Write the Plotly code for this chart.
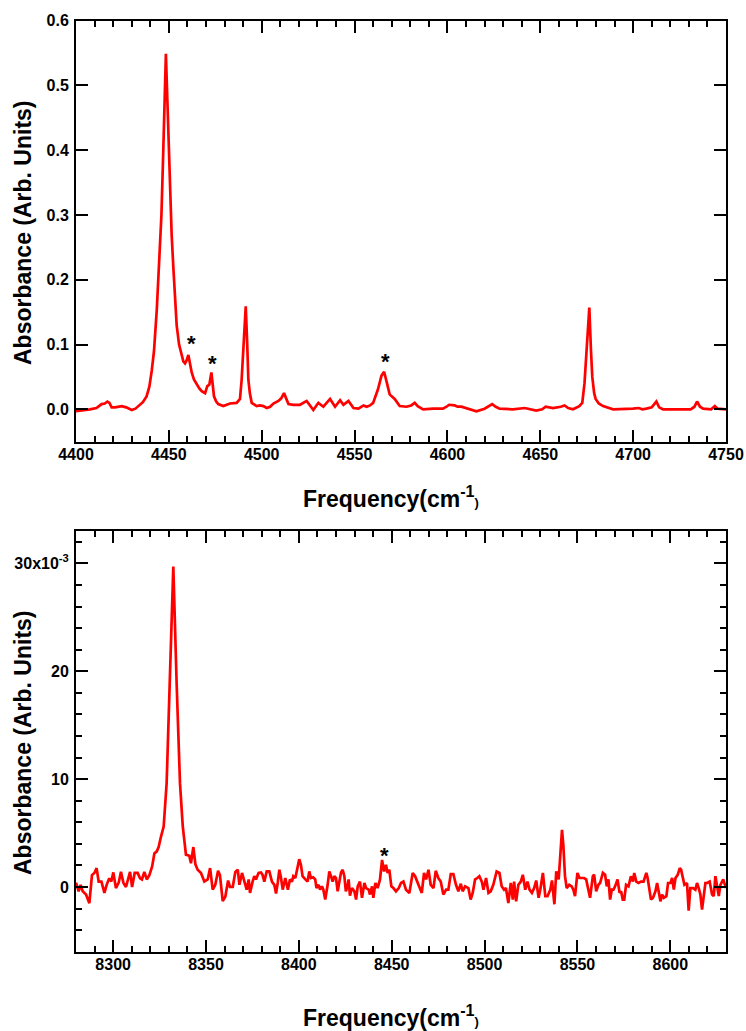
import plotly.graph_objects as go

# ---------------- data: upper panel (4400-4750 cm-1) ----------------
freq_top = [4400, 4404, 4407.5, 4411, 4413.8, 4415.5, 4416.9, 4418, 4419.2, 4421, 4424.6, 4427, 4430, 4432,
            4434.5, 4436, 4438, 4439.5, 4440.8, 4442, 4443.5, 4444.9, 4446, 4447, 4448.4, 4449.5, 4450.5,
            4451.5, 4452.4, 4453.3, 4454.2, 4455.5, 4456.9, 4457.8, 4458.7, 4459.5, 4460.5, 4461.3, 4462.3,
            4463.5, 4465, 4466.5, 4467.7, 4469.5, 4470.7, 4471.8, 4472.9, 4473.6, 4474.3, 4475.5, 4476.6,
            4479.3, 4482.9, 4486.5, 4488.3, 4489.2, 4490.3, 4491.4, 4492.2, 4492.8, 4493.6, 4494.6, 4497.3,
            4499, 4500.9, 4502.7, 4504.5, 4506.3, 4509, 4510.5, 4512, 4513.2, 4514.4, 4517, 4520.6, 4524.2,
            4526, 4527.8, 4530.5, 4533.2, 4536.8, 4539.5, 4542.2, 4544, 4546.7, 4549.4, 4552.1, 4554.8,
            4556.5, 4558.3, 4560, 4562.6, 4564.5, 4565.9, 4567.3, 4568.9, 4570, 4571.6, 4574.3, 4577.9,
            4580.5, 4582.4, 4584, 4586.9, 4592.3, 4597.6, 4599.5, 4600.9, 4603.9, 4605.5, 4607.5, 4611.1,
            4615.6, 4620, 4622.5, 4624.1, 4626, 4628.1, 4635.3, 4641.6, 4647.8, 4651, 4652.9, 4656.8, 4661,
            4663.1, 4665, 4667.6, 4671, 4672.6, 4673.8, 4674.8, 4676.4, 4677.3, 4678, 4679, 4679.8, 4681.5,
            4683.8, 4689.2, 4695, 4699.9, 4703, 4705, 4707.1, 4710, 4712.5, 4714, 4716.1, 4720, 4726.9,
            4731, 4733, 4734.4, 4736, 4737.7, 4742, 4744, 4745.5, 4749.3, 4750]
abs_top = [-0.003, -0.002, 0.0, 0.002, 0.008, 0.009, 0.012, 0.010, 0.003, 0.003, 0.005, 0.003, -0.001, 0.001,
           0.007, 0.011, 0.020, 0.035, 0.060, 0.090, 0.154, 0.230, 0.300, 0.400, 0.549, 0.450, 0.350,
           0.270, 0.220, 0.170, 0.130, 0.100, 0.082, 0.074, 0.071, 0.075, 0.084, 0.072, 0.057,
           0.046, 0.038, 0.032, 0.028, 0.025, 0.036, 0.038, 0.057, 0.035, 0.020, 0.012, 0.008,
           0.005, 0.009, 0.010, 0.016, 0.046, 0.100, 0.159, 0.100, 0.046, 0.025, 0.010, 0.005,
           0.006, 0.005, 0.002, 0.004, 0.009, 0.013, 0.017, 0.025, 0.015, 0.008, 0.007, 0.007, 0.013,
           0.005, -0.001, 0.010, 0.004, 0.016, 0.004, 0.014, 0.007, 0.013, 0.002, 0.001, 0.006,
           0.004, 0.006, 0.010, 0.031, 0.052, 0.058, 0.042, 0.023, 0.020, 0.016, 0.005, 0.004,
           0.006, 0.010, 0.005, 0.000, 0.001, 0.001, 0.004, 0.007, 0.006, 0.004, 0.004, 0.001,
           -0.003, 0.001, 0.006, 0.008, 0.004, 0.001, 0.000, 0.002, -0.002, 0.000, 0.004, 0.002, 0.004,
           0.006, 0.002, 0.000, 0.005, 0.010, 0.040, 0.088, 0.157, 0.090, 0.050, 0.025, 0.016, 0.009,
           0.005, 0.000, 0.000, 0.001, 0.002, 0.000, 0.001, 0.003, 0.012, 0.003, 0.000, 0.000, -0.001,
           0.000, 0.004, 0.012, 0.004, 0.001, 0.000, 0.005, 0.001, 0.000, 0.000]

# ---------------- data: lower panel (8280-8630 cm-1), absorbance in units of 1e-3 ----------------
freq_bot = [8280, 8281.4, 8282.5, 8283.6, 8285.4, 8287.2, 8288.6, 8289.9, 8291.1, 8292.2, 8293.7, 8295.3,
            8296.5, 8297.9, 8299.0, 8300.1, 8301.5, 8303.0, 8304.2, 8305.5, 8306.9, 8308.2, 8309.1, 8310.2,
            8311.6, 8313.2, 8314.5, 8315.5, 8316.8, 8318.1, 8319.5, 8321, 8322.2, 8323.5, 8324.5, 8325.8,
            8327.2, 8328.8, 8330.6, 8332.4, 8334.2, 8336, 8337.5, 8338.2, 8339.2, 8341, 8341.9, 8343.2,
            8344.3, 8345.5, 8347.3, 8349.1, 8350.9, 8352.2, 8353.6, 8355, 8356.5, 8357.5, 8359, 8360.4,
            8361.9, 8362.9, 8364.4, 8365.8, 8367.1, 8368, 8369.4, 8370.7, 8371.9, 8373, 8373.7, 8375.1,
            8376, 8376.9, 8378.3, 8379.6, 8380.5, 8381.4, 8382.7, 8384.1, 8385.5, 8386.8, 8387.7, 8388.6,
            8389.5, 8390.4, 8391.3, 8392.7, 8393.4, 8394.1, 8395.2, 8396.3, 8397, 8398.1, 8399.4, 8400.2,
            8401.1, 8402, 8403.5, 8404.7, 8405.6, 8406.5, 8407.7, 8408.8, 8409.5, 8410.6, 8411.4, 8412.4,
            8413.2, 8414.2, 8415.5, 8416.4, 8417.3, 8418.2, 8419.1, 8420, 8420.9, 8421.8, 8422.7, 8423.6,
            8424.5, 8425.3, 8426.2, 8426.8, 8427.5, 8428.6, 8429.9, 8430.8, 8431.7, 8432.9, 8434, 8435.3,
            8436.2, 8437.6, 8438.3, 8439.4, 8440.1, 8441.2, 8442.4, 8443.7, 8444.8, 8445.9, 8446.9, 8447.8,
            8448.7, 8449.8, 8450.9, 8452.3, 8453.8, 8455, 8456.3, 8457.7, 8459.5, 8461.3, 8462.6, 8464.4,
            8466.2, 8467.4, 8468.5, 8469.8, 8471.0, 8472.5, 8473.7, 8475.1, 8476.4, 8477.8, 8479.3, 8480.5,
            8481.8, 8483.2, 8484.6, 8485.9, 8487.2, 8488.2, 8489.5, 8491.3, 8492.5, 8493.6, 8494.9, 8496.1,
            8497.2, 8498.5, 8499.4, 8500.8, 8502.1, 8503.3, 8504.7, 8506.5, 8508, 8509.2, 8510.5, 8511.5,
            8512.8, 8514.1, 8515.2, 8515.9, 8517, 8518.2, 8519.5, 8520.6, 8521.9, 8523.1, 8524.2, 8525.5,
            8526.7, 8527.8, 8529.1, 8530, 8531.4, 8532.7, 8533.9, 8535.4, 8536.3, 8537.6, 8538.6, 8539.9,
            8540.8, 8541.7, 8542.4, 8543.3, 8544.2, 8545.6, 8546.9, 8547.8, 8548.7, 8550, 8551.1, 8552.3,
            8553.6, 8554.7, 8555.9, 8556.8, 8558.3, 8559, 8560.1, 8561.3, 8562.2, 8563.7, 8564.9, 8565.8,
            8566.7, 8567.6, 8568.5, 8569.4, 8570.3, 8571.6, 8572.7, 8573.5, 8574.4, 8575.2, 8576.2, 8577.5,
            8578.8, 8579.9, 8580.6, 8581.7, 8582.9, 8584.2, 8585.6, 8587.1, 8587.8, 8588.9, 8589.6, 8590.7,
            8592, 8592.9, 8593.9, 8594.7, 8595.6, 8596.5, 8597.9, 8598.8, 8600.1, 8601, 8601.9, 8602.8,
            8604, 8605.1, 8605.8, 8606.9, 8607.6, 8609, 8609.9, 8610.8, 8612.3, 8613.5, 8614.4, 8615.3,
            8616.2, 8617.1, 8618, 8618.9, 8619.8, 8621.2, 8622.5, 8623.4, 8624.3, 8625.2, 8626.1, 8627,
            8628.5, 8630]
abs_bot_e3 = [0.4, -0.4, 0.2, -0.4, -0.7, -1.5, 1.1, 1.3, 1.75, 0.5, 0.5, -0.55,
              0.2, 0.8, 0.5, 1.35, -0.1, 0.4, 1.4, 0.4, 0.0, 0.8, 1.4, 0.0,
              1.3, 1.3, 0.8, 0.7, 1.4, 0.7, 1.1, 1.9, 3.1, 3.3, 3.7, 4.7,
              5.6, 9.6, 18.8, 29.7, 18.8, 9.6, 5.6, 4.5, 3.0, 2.9, 2.2, 3.7,
              2.1, 1.6, 1.3, 0.5, 0.7, 1.75, -0.25, 0.2, 1.5, 1.1, -1.3, -0.9,
              0.6, 0.0, 0.0, 1.4, 1.6, 0.2, 1.3, 0.5, -0.25, 0.7, -0.55, 0.5,
              1.0, 0.7, 1.3, 1.35, 1.1, 0.5, 1.44, 1.44, 0.5, 0.2, -0.6, 0.37,
              1.6, 0.83, -0.25, 0.83, 0.37, -0.25, 0.7, 0.5, 1.0, 0.83, 1.9, 2.58,
              2.05, 1.0, 0.7, 0.5, 1.44, 0.83, 0.9, 0.7, -0.1, 0.2, -0.25, 0.06,
              -0.25, -1.17, 0.2, 1.44, 1.0, 0.5, 1.0, 0.83, -0.4, 0.37, 1.35, 1.6,
              1.0, -0.4, 0.06, 0.7, -0.8, -0.1, -0.4, -1.17, 0.06, 0.5, -1.0, 0.37,
              -0.1, -0.25, -0.7, 0.06, -1.0, 0.37, -0.1, 0.7, 2.5, 1.44, 2.05, 1.3,
              1.6, 0.06, -0.1, -0.4, -0.1, 0.37, 0.5, -0.25, -0.55, 1.3, 1.0, 0.2,
              -0.55, 1.3, 0.7, 1.6, 0.2, -0.1, 1.5, 0.83, 0.5, -0.7, -0.25, -0.25,
              1.2, 1.2, 0.2, -0.4, 0.3, -0.4, 0.06, -0.1, -1.17, -0.55, 0.7, 0.83,
              1.0, 0.5, -0.25, 0.83, -0.55, -0.4, 0.2, 1.44, 1.3, 0.06, -0.25, -0.1,
              -1.5, 0.37, -1.17, 0.5, -1.33, 0.2, 0.5, 1.13, -0.25, 0.5, -0.25, -0.55,
              -0.1, 0.6, -1.0, -0.25, 1.3, -0.85, -0.85, -0.25, 0.6, -1.6, 1.44, 0.7,
              2.8, 5.3, 3.9, 1.0, -0.1, 0.2, 0.06, -0.25, -0.85, 1.3, 0.83, 0.83,
              0.83, 0.7, -0.4, -1.0, 1.0, 1.13, -0.4, 0.2, 0.37, 1.3, 1.13, 0.06,
              0.7, -1.17, -0.25, -0.25, 0.06, 0.7, -0.55, -0.4, -1.17, -1.17, 0.2, 0.06,
              1.0, 0.5, 1.3, 0.5, 0.37, 0.5, 0.5, 1.3, 0.83, -0.25, -1.17, -1.0,
              -0.4, 0.37, -0.4, -1.33, -0.7, -1.0, -0.85, 0.37, 0.37, 0.83, -0.25, 0.83,
              1.13, 1.75, 1.6, 0.83, 0.2, 0.37, -2.2, -0.1, -0.1, -0.25, 0.37, -0.1,
              -0.7, -2.1, -0.85, 0.37, 0.37, 0.5, -0.7, -0.85, 1.0, 0.06, -0.85, 0.2,
              0.7, -0.1]
abs_bot = [v * 1e-3 for v in abs_bot_e3]

# asterisk markers (frequency, absorbance)
star_top_x = [4462.3, 4473.4, 4566.7]
star_top_y = [0.109, 0.078, 0.081]
star_bot_x = [8445.9]
star_bot_y = [0.00335]

# tick labels
bot_tickvals = [0, 0.01, 0.02, 0.03]
bot_ticktext = ["0", "10", "20", "30x10<sup>-3</sup>"]

W, H = 746, 1031
FONT = "Liberation Sans"
RED = "#ff0000"

fig = go.Figure()
fig.add_trace(go.Scatter(x=freq_top, y=abs_top, mode="lines",
                         line=dict(color=RED, width=2.7), xaxis="x", yaxis="y", showlegend=False))
fig.add_trace(go.Scatter(x=freq_bot, y=abs_bot, mode="lines",
                         line=dict(color=RED, width=2.7), xaxis="x2", yaxis="y2", showlegend=False))

xdom = [76 / W, 726 / W]
ydom_top = [1 - 441.7 / H, 1 - 20.7 / H]
ydom_bot = [1 - 951.7 / H, 1 - 531 / H]

tickfont = dict(family=FONT, size=16, color="black", weight="bold")
common = dict(showline=True, linewidth=2, linecolor="black", mirror="allticks",
              ticks="inside", ticklen=12, tickwidth=2, tickcolor="black",
              showgrid=False, zeroline=False, tickfont=tickfont, automargin=False)
minor_x = dict(ticks="inside", dtick=10, ticklen=6, tickwidth=2, tickcolor="black", showgrid=False)

fig.update_layout(
    width=W, height=H,
    margin=dict(l=0, r=0, t=0, b=0, pad=0, autoexpand=False),
    paper_bgcolor="white", plot_bgcolor="white",
    showlegend=False,
    xaxis=dict(domain=xdom, anchor="y", range=[4400, 4750], tick0=4400, dtick=50,
               minor=minor_x, ticklabelstandoff=-3, **common),
    yaxis=dict(domain=ydom_top, anchor="x", range=[-0.05, 0.6], tick0=0, dtick=0.1,
               tickformat=".1f", ticklabelstandoff=2, **common),
    xaxis2=dict(domain=xdom, anchor="y2", range=[8280, 8630], tick0=8300, dtick=50,
                minor=minor_x, ticklabelstandoff=-3, **common),
    yaxis2=dict(domain=ydom_bot, anchor="x2", range=[-0.006, 0.033], tickmode="array",
                tickvals=bot_tickvals, ticktext=bot_ticktext, ticklabelstandoff=2,
                minor=dict(ticks="inside", tickmode="linear", tick0=0, dtick=0.002, ticklen=6,
                           tickwidth=2, tickcolor="black", showgrid=False),
                **common),
)

title_font = dict(family=FONT, size=23, color="black", weight="bold")
xtitle = "Frequency(cm<sup>-1</sup><span style='font-size:13px'>)</span>"
annotations = [
    dict(text="Absorbance (Arb. Units)", x=23 / W, y=1 - 233 / H, textangle=-90),
    dict(text="Absorbance (Arb. Units)", x=23 / W, y=1 - 743 / H, textangle=-90),
    dict(text=xtitle, x=391 / W, y=1 - 497 / H),
    dict(text=xtitle, x=391 / W, y=1 - 1016 / H),
]
for a in annotations:
    a.update(xref="paper", yref="paper", showarrow=False, font=title_font,
             xanchor="center", yanchor="middle")
for sx, sy in zip(star_top_x, star_top_y):
    annotations.append(dict(text="*", x=sx, y=sy, xref="x", yref="y", showarrow=False,
                            font=dict(family=FONT, size=22, color="black", weight="bold"),
                            yshift=-5))
for sx, sy in zip(star_bot_x, star_bot_y):
    annotations.append(dict(text="*", x=sx, y=sy, xref="x2", yref="y2", showarrow=False,
                            font=dict(family=FONT, size=22, color="black", weight="bold"),
                            yshift=-5))
fig.update_layout(annotations=annotations)

fig.write_html("out.html", config={"displayModeBar": False},
               post_script="document.body.style.margin='0';document.body.style.padding='0';"
                           "document.body.style.overflow='hidden';")
